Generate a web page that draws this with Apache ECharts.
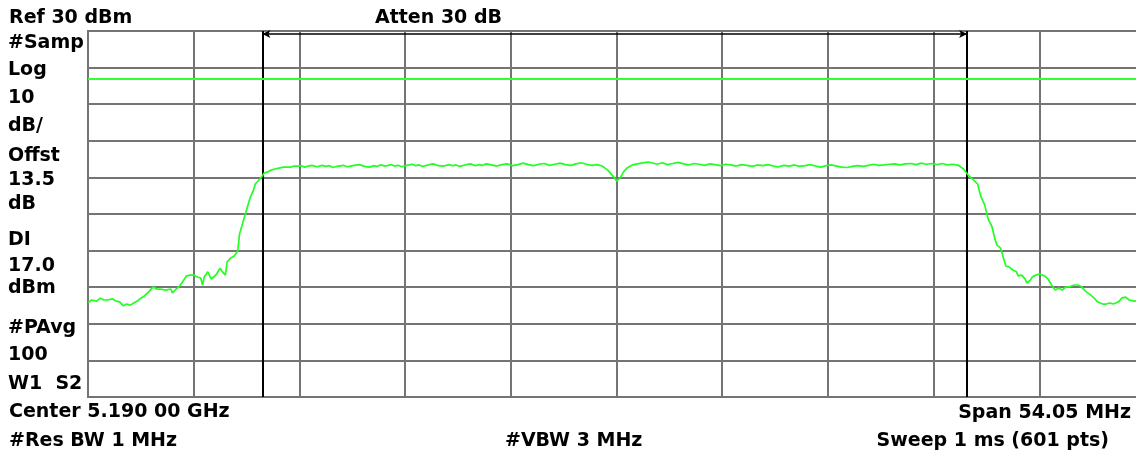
<!DOCTYPE html>
<html>
<head>
<meta charset="utf-8">
<script src="https://cdn.jsdelivr.net/npm/echarts@6/dist/echarts.min.js"></script>
<style>
html,body{margin:0;padding:0;background:#fff;}
#chart{width:1136px;height:458px;}
</style>
</head>
<body>
<div id="chart"></div>
<script>
// ---- data (point index 0..600 of 601-pt sweep, amplitude in dBm) ----
const refLevel = 30;
const dbPerDiv = 10;
const displayLine = 17.0;
const sweepPoints = 601;
const markerIdx = [99, 499];

const leftSkirt = [[0,-44.3],[2,-43.5],[3,-43.2],[5,-43.8],[7,-43.0],[9,-43.5],[11,-43.5],[12,-44.0],[14,-43.2],[16,-43.8],[18,-44.0],[20,-45.1],[22,-44.6],[24,-44.9],[26,-44.3],[28,-43.8],[30,-43.0],[32,-42.4],[33,-41.9],[35,-41.0],[37,-39.9],[39,-40.5],[41,-40.5],[44,-40.8],[47,-40.5],[48,-41.6],[50,-40.5],[52,-39.7],[54,-38.3],[56,-36.9],[58,-36.7],[60,-36.7],[62,-37.2],[64,-37.5],[65,-39.4],[66,-37.2],[68,-35.8],[70,-37.8],[71,-38.0],[73,-36.4],[75,-34.8],[76,-35.6],[78,-36.7],[79,-33.1],[81,-32.0],[83,-31.5],[85,-30.1],[86,-25.5],[88,-22.2],[90,-18.9],[92,-15.6],[94,-13.4],[95,-11.8],[97,-10.7],[99,-9.6],[100,-8.8],[102,-8.5],[104,-8.0],[106,-7.7],[107,-8.0],[109,-7.4],[111,-7.2],[112,-7.7],[115,-7.2],[117,-6.9],[119,-6.9]];

const flatLow = [[121,-6.8],[123,-7.2],[125,-6.9],[127,-6.7],[130,-7.1],[133,-6.7],[135,-7.0],[137,-6.8],[139,-7.3],[142,-6.9],[145,-6.7],[147,-7.1],[149,-6.9],[151,-6.7],[154,-6.5],[157,-7.0],[160,-7.2],[162,-6.8],[164,-7.0],[166,-6.6],[169,-6.9],[172,-6.5],[174,-6.9],[176,-6.7],[178,-7.1],[181,-6.7],[184,-6.4],[186,-6.8],[188,-6.6],[190,-7.0],[193,-6.6],[196,-6.3],[199,-6.8],[202,-6.9],[205,-6.5],[207,-6.8],[209,-6.6],[211,-7.0],[214,-6.6],[217,-6.3],[220,-6.8],[222,-6.5],[224,-6.7],[226,-6.3],[229,-6.6],[232,-6.9],[235,-6.5],[238,-6.3],[241,-6.8],[244,-6.5],[247,-6.1],[250,-6.5],[253,-6.8],[256,-6.4],[259,-6.2],[262,-6.7],[265,-6.4],[268,-6.1],[271,-6.5],[274,-6.7],[277,-6.3],[280,-6.0],[283,-6.4],[286,-6.7],[289,-6.5]];

const centerNotch = [[292,-6.9],[295,-8.0],[297,-9.1],[299,-10.2],[300,-11.0],[302,-10.2],[304,-8.5],[306,-7.4],[309,-6.6],[312,-6.3],[314,-6.1],[318,-5.8]];

const flatHigh = [[320,-6.0],[323,-6.4],[326,-6.0],[329,-6.5],[332,-6.2],[335,-5.9],[338,-6.3],[341,-6.6],[344,-6.2],[347,-6.4],[350,-6.7],[353,-6.3],[356,-6.5],[359,-6.8],[362,-6.4],[365,-6.6],[368,-6.9],[371,-6.5],[374,-6.7],[377,-7.0],[380,-6.6],[383,-6.8],[386,-6.5],[389,-6.9],[392,-7.1],[395,-6.7],[398,-6.9],[401,-6.6],[404,-7.0],[407,-6.8],[410,-6.5],[413,-6.9],[416,-7.2],[419,-6.8],[422,-6.6],[425,-6.9],[428,-7.2],[431,-7.3],[434,-7.0],[437,-6.8],[440,-7.0],[443,-6.7],[446,-6.4],[449,-6.7],[452,-6.6],[455,-6.4],[458,-6.3],[461,-6.6],[464,-6.3],[467,-6.2],[470,-6.5],[473,-6.1],[476,-6.4],[479,-6.2],[482,-6.5],[485,-6.2],[488,-6.6],[491,-6.4],[494,-6.7]];

const rightSkirt = [[495,-6.9],[497,-7.7],[500,-9.6],[502,-10.4],[505,-11.8],[506,-13.7],[507,-15.4],[509,-17.5],[510,-19.5],[511,-21.4],[513,-23.3],[514,-25.2],[515,-27.1],[516,-28.5],[518,-29.3],[519,-29.6],[521,-34.2],[522,-33.7],[523,-34.5],[525,-35.3],[527,-35.8],[528,-36.9],[530,-36.7],[532,-37.8],[533,-38.9],[535,-38.0],[536,-37.2],[538,-36.7],[540,-36.4],[543,-36.9],[545,-37.8],[547,-39.4],[549,-40.8],[551,-40.2],[553,-40.8],[555,-39.9],[557,-39.9],[560,-39.4],[562,-39.4],[564,-39.9],[566,-41.0],[569,-42.1],[571,-42.9],[573,-44.0],[576,-44.6],[578,-44.6],[580,-44.3],[582,-44.6],[585,-44.0],[587,-42.9],[589,-42.7],[591,-43.5],[594,-43.8],[597,-43.6],[600,-43.9]];

const topTexts = ['Ref 30 dBm', 'Atten 30 dB'];
const leftLabels = ['#Samp','Log','10','dB/','Offst','13.5','dB','DI','17.0','dBm','#PAvg','100','W1  S2'];
const bottomTexts = ['Center 5.190 00 GHz', 'Span 54.05 MHz', '#Res BW 1 MHz', '#VBW 3 MHz', 'Sweep 1 ms (601 pts)'];

// ---- layout ----
const FONT = 'bold 19px "DejaVu Sans"';
const leftLabelY = [43, 70, 98.5, 126.5, 156, 180.5, 204.5, 240, 266, 288, 328, 355, 384];

const trace = [].concat(leftSkirt, flatLow, centerNotch, flatHigh, rightSkirt);

function txt(text, x, y, align) {
  return {
    type: 'text', x: x, y: y, silent: true,
    style: { text: text, font: FONT, fill: '#000',
      textAlign: align || 'left', textVerticalAlign: 'middle',
      align: align || 'left', verticalAlign: 'middle' }
  };
}

const graphics = [
  txt(topTexts[0], 9, 18),
  txt(topTexts[1], 375, 18),
  txt(bottomTexts[0], 9, 412),
  txt(bottomTexts[1], 1131, 413, 'right'),
  txt(bottomTexts[2], 9, 441),
  txt(bottomTexts[3], 505, 441),
  txt(bottomTexts[4], 1109, 441, 'right')
];
leftLabels.forEach((t, i) => graphics.push(txt(t, 8, leftLabelY[i])));

const gridColor = '#747474';
const chart = echarts.init(document.getElementById('chart'), null, { renderer: 'canvas' });
chart.setOption({
  animation: false,
  backgroundColor: '#ffffff',
  grid: { left: 88, top: 31, width: 1057, height: 366, show: true,
    outerBoundsMode: 'none', containLabel: false,
    borderColor: gridColor, borderWidth: 2, backgroundColor: 'transparent' },
  xAxis: {
    type: 'value', min: 0, max: sweepPoints - 1, interval: 60,
    axisLine: { show: true, lineStyle: { color: gridColor, width: 2 } },
    axisTick: { show: false }, axisLabel: { show: false },
    splitLine: { show: true, lineStyle: { color: gridColor, width: 2 } }
  },
  yAxis: {
    type: 'value', min: refLevel - 10 * dbPerDiv, max: refLevel, interval: dbPerDiv,
    axisLine: { show: true, lineStyle: { color: gridColor, width: 2 } },
    axisTick: { show: false }, axisLabel: { show: false },
    splitLine: { show: true, lineStyle: { color: gridColor, width: 2 } }
  },
  graphic: graphics,
  series: [
    {
      type: 'line', data: [], silent: true,
      markLine: {
        silent: true, animation: false, symbol: ['none', 'none'],
        label: { show: false },
        data: [
          { xAxis: markerIdx[0], lineStyle: { color: '#000', width: 2, type: 'solid' } },
          { xAxis: markerIdx[1], lineStyle: { color: '#000', width: 2, type: 'solid' } },
          { yAxis: displayLine, lineStyle: { color: '#33ff33', width: 2, type: 'solid' } }
        ]
      }
    },
    {
      type: 'line', data: [], silent: true,
      markLine: {
        silent: true, animation: false, symbol: ['arrow', 'arrow'], symbolSize: [6, 8],
        label: { show: false },
        lineStyle: { color: '#000', width: 1.5, type: 'solid' },
        data: [[ { coord: [markerIdx[0], 29.15] }, { coord: [markerIdx[1], 29.15] } ]]
      }
    },
    {
      type: 'line', data: trace, showSymbol: false, silent: true,
      lineStyle: { color: '#22ff22', width: 1.7 },
      z: 5
    }
  ]
});
</script>
</body>
</html>
